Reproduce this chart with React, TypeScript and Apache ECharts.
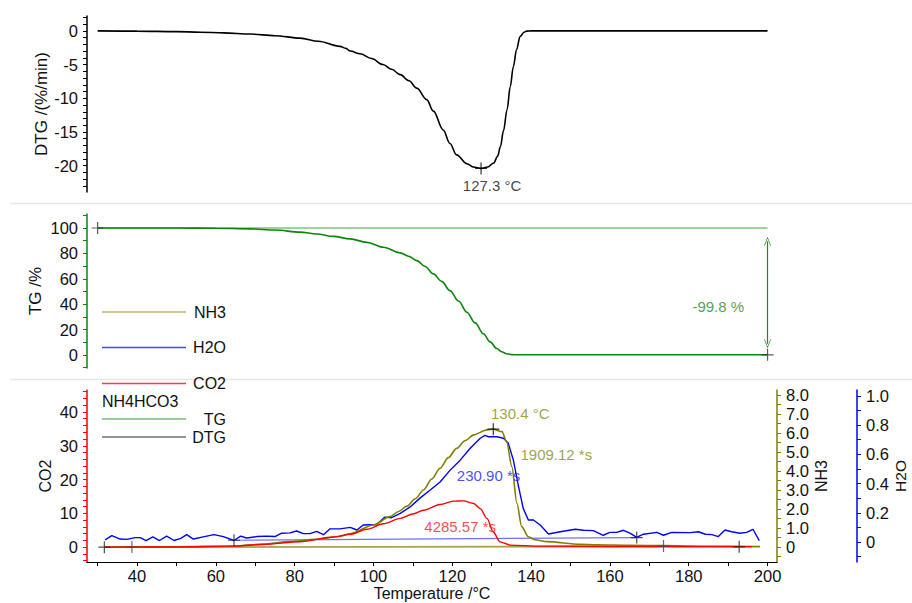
import React, { useEffect, useRef } from 'react';
import * as echarts from 'echarts';

const FONT = 'Arial, "Liberation Sans", Helvetica, sans-serif';

// ---- x axis (Temperature /°C) ----
const X_MIN = 27.3;
const X_MAX = 202.4;
const xTickValues = [30, 40, 50, 60, 70, 80, 90, 100, 110, 120, 130, 140, 150, 160, 170, 180, 190, 200];
const xLabelValues = [40, 60, 80, 100, 120, 140, 160, 180, 200];

// ---- DTG panel ----
const dtgLabelValues = [0, -5, -10, -15, -20];
const dtgTickValues = [2, 1, 0, -1, -2, -3, -4, -5, -6, -7, -8, -9, -10, -11, -12, -13, -14, -15, -16, -17, -18, -19, -20, -21, -22, -23];
const dtgData: [number, number][] = [
  [30, 0], [40, -0.05], [50, -0.12], [56, -0.2], [62, -0.3], [68.7, -0.48], [75, -0.72], [81.4, -1.08],
  [86, -1.55], [91.5, -2.3], [93, -2.6], [94.1, -3.0], [96.6, -3.4], [99.5, -4.1], [102.4, -5.0],
  [104.6, -5.7], [106.8, -6.5], [109, -7.4], [111, -8.5], [113.5, -10.2], [115.2, -11.9], [117.7, -14.7],
  [119.4, -16.7], [121.1, -18.4], [123.7, -19.7], [125.4, -20.2], [127.3, -20.4], [129, -20.2],
  [130.5, -19.6], [131.5, -18.6], [132.2, -17.2], [133, -14.8], [133.9, -11.7], [134.7, -8.3],
  [135.5, -5.3], [136.3, -2.8], [137.2, -0.85], [138.2, -0.2], [138.9, -0.05], [140, 0], [200, 0],
];
const dtgPeak: [number, number] = [127.3, -20.4];
const dtgPeakLabel = '127.3 °C';

// ---- TG panel ----
const tgLabelValues = [0, 20, 40, 60, 80, 100];
const tgTickValues = [-10, 0, 10, 20, 30, 40, 50, 60, 70, 80, 90, 100, 110];
const tgData: [number, number][] = [
  [30, 100], [50, 99.95], [60, 99.8], [68.7, 99.3], [75, 98.4], [81.4, 96.7], [85.6, 95.3], [89.8, 93.4],
  [94.1, 91.4], [98.3, 88.7], [102.5, 84.8], [106.8, 80.4], [108.9, 77.8], [111, 74.3], [113.1, 69.7],
  [115.2, 63.9], [117.3, 58], [119.4, 50.7], [121.6, 42.5], [123.7, 33.7], [125.8, 25.3], [127.9, 16.7],
  [129.6, 10.4], [131.3, 5.1], [132.5, 2.6], [133.8, 1.0], [135.1, 0.3], [136.4, 0.2], [200, 0.2],
];
const tgReference: [number, number][] = [[30, 100], [200, 100]];
const tgMarks: [number, number][] = [[30, 100], [200, 0.2]];
const tgStepArrow: [number, number][] = [[200, 89.5], [200, 8.8]];
const tgStepLabelPos: [number, number] = [187.5, 38.5];
const tgStepLabel = '-99.8 %';

// ---- MS panel ----
const co2LabelValues = [0, 10, 20, 30, 40];
const co2TickValues = [-4, -2, 0, 2, 4, 6, 8, 10, 12, 14, 16, 18, 20, 22, 24, 26, 28, 30, 32, 34, 36, 38, 40, 42, 44, 46];
const nh3LabelValues = [0, 1, 2, 3, 4, 5, 6, 7, 8];
const nh3TickValues = [-0.5, 0, 0.5, 1, 1.5, 2, 2.5, 3, 3.5, 4, 4.5, 5, 5.5, 6, 6.5, 7, 7.5, 8];
const h2oLabelValues = [0, 0.2, 0.4, 0.6, 0.8, 1.0];
const h2oTickValues = [-0.1, 0, 0.1, 0.2, 0.3, 0.4, 0.5, 0.6, 0.7, 0.8, 0.9, 1.0];

const co2Data: [number, number][] = [
  [31.7, 0], [50, 0.05], [64.4, 0.3], [72, 0.8], [81.4, 1.6], [89.9, 3.0], [94.1, 3.8], [98.3, 5.3],
  [102.5, 6.9], [106.8, 8.5], [110, 9.8], [112.7, 10.9], [116.9, 12.6], [120.3, 13.6], [122.8, 13.7],
  [125.4, 12.9], [127.1, 11.4], [128.8, 8.5], [130.4, 4.5], [132.1, 1.56], [134.7, 0.6], [142.3, 0.3],
  [160, 0.2], [196, 0.15],
];
const nh3Data: [number, number][] = [
  [31.7, 0], [40, 0], [50, 0.01], [60, 0.03], [64.4, 0.05], [72, 0.15], [78.8, 0.28], [85, 0.4],
  [91.5, 0.55], [94.1, 0.7], [100, 1.16], [104.2, 1.6], [106.4, 1.87], [108.5, 2.15], [110.6, 2.54],
  [112.7, 3.0], [114.8, 3.58], [116.9, 4.14], [119, 4.7], [121.1, 5.19], [123.3, 5.6], [125.4, 5.9],
  [128.8, 6.16], [130.4, 6.2], [132.6, 6.07], [133.8, 5.54], [135.1, 4.23], [136.4, 2.3], [137.6, 1.07],
  [139.3, 0.54], [141, 0.38], [144, 0.28], [152.4, 0.14], [156.7, 0.12], [165, 0.09], [173.5, 0.07],
  [185, 0.04], [198.1, 0.02],
];
const h2oData: [number, number][] = [
  [31.9, 0.014], [33.6, 0.043], [35.7, 0.02], [37.4, 0.018], [39.5, 0.03], [40.8, 0.03], [42.3, 0.01],
  [44, 0.035], [45.7, 0.01], [47.5, 0.04], [49.4, 0.01], [51.1, 0.025], [52.6, 0.05], [54.3, 0.02],
  [56.8, 0.035], [59.5, 0.05], [61.9, 0.037], [64.6, 0.01], [66.3, 0.04], [67.8, 0.027], [70.4, 0.037],
  [72.9, 0.04], [75, 0.037], [76.7, 0.06], [78.8, 0.062], [80.5, 0.075], [82.2, 0.057], [83.9, 0.057],
  [85.6, 0.073], [87.3, 0.05], [89, 0.09], [91.5, 0.09], [94.1, 0.1], [95.8, 0.082], [97.4, 0.116],
  [100.8, 0.12], [102.9, 0.17], [104.6, 0.166], [106.8, 0.196], [109.3, 0.24], [111.8, 0.3],
  [114.4, 0.356], [116.9, 0.41], [119.4, 0.49], [122, 0.56], [124.5, 0.64], [125.8, 0.676],
  [127.1, 0.71], [128.3, 0.73], [129.2, 0.72], [131.3, 0.72], [133, 0.71], [134.2, 0.676],
  [135.5, 0.56], [136.8, 0.38], [138, 0.23], [139.3, 0.15], [140.6, 0.15], [142.3, 0.116],
  [144.4, 0.055], [147.4, 0.07], [151.2, 0.087], [153.3, 0.08], [155.8, 0.078], [158.3, 0.046],
  [160, 0.066], [161.7, 0.066], [163.4, 0.08], [165.1, 0.06], [166.8, 0.032], [168.5, 0.053],
  [171.9, 0.066], [173.6, 0.046], [175.7, 0.066], [180.4, 0.064], [182.5, 0.07], [184.2, 0.053],
  [185.9, 0.05], [187.5, 0.037], [189.2, 0.082], [190.9, 0.07], [193, 0.06], [194.7, 0.066],
  [196.3, 0.087], [197.9, 0.009],
];
const co2Baseline: [number, number][] = [[31.7, 0], [192.8, 0.1]];
const nh3Baseline: [number, number][] = [[38.7, 0], [173.6, 0.05]];
const h2oBaseline: [number, number][] = [[64.6, 0.012], [166.8, 0.03]];
const co2Marks: [number, number][] = [[31.7, 0], [192.8, 0.1]];
const nh3Marks: [number, number][] = [[38.7, 0], [173.6, 0.05]];
const h2oMarks: [number, number][] = [[64.6, 0.012], [166.8, 0.03]];
const nh3Peak: [number, number] = [130.4, 6.2];
const nh3PeakLabel = '130.4 °C';
const nh3AreaLabelPos: [number, number] = [146.4, 4.89];
const nh3AreaLabel = '1909.12 *s';
const h2oAreaLabelPos: [number, number] = [129.2, 0.454];
const h2oAreaLabel = '230.90 *s';
const co2AreaLabelPos: [number, number] = [122, 6.0];
const co2AreaLabel = '4285.57 *s';

// legend entries (name, colour)
const legendItems = [
  { name: 'NH3', color: '#b9b672', y: 312 },
  { name: 'H2O', color: '#4646ff', y: 347.5 },
  { name: 'CO2', color: '#ff3a3a', y: 383.5 },
  { name: 'TG', color: '#70bf70', y: 419 },
  { name: 'DTG', color: '#707070', y: 437 },
];
const legendTitle = 'NH4HCO3';

const C_DTG = '#000000';
const C_TG = '#0a870a';
const C_CO2 = '#ff0000';
const C_NH3 = '#808000';
const C_H2O = '#0000ff';

const TICK_FONT = 16.5;
const ANN_FONT = 15;
const LEG_FONT = 16;

const PLUS = 'path://M4.5,0 H5.5 V4.5 H10 V5.5 H5.5 V10 H4.5 V5.5 H0 V4.5 H4.5 Z';
const VHEAD = 'path://M5,0 L10,10 L9,10 L5,2 L1,10 L0,10 Z';

function yAxisBase(opts: any) {
  const { color, labels, ticks, fmt, nameFont } = opts;
  return {
    type: 'value',
    splitLine: { show: false },
    axisLine: { show: true, lineStyle: { color, width: 1.5 } },
    axisTick: { show: true, inside: false, length: 4, customValues: ticks, lineStyle: { color, width: 1 } },
    axisLabel: {
      show: true,
      customValues: labels,
      color: '#111',
      fontSize: TICK_FONT,
      fontFamily: FONT,
      margin: 9,
      formatter: fmt,
    },
    nameLocation: 'middle',
    nameRotate: 90,
    nameMoveOverlap: false,
    nameTextStyle: { color: '#111', fontSize: nameFont, fontFamily: FONT },
  };
}

function labelPoint(x: number, y: number, xi: number, yi: number, text: string, color: string) {
  return {
    type: 'scatter',
    xAxisIndex: xi,
    yAxisIndex: yi,
    silent: true,
    symbolSize: 1,
    itemStyle: { color: 'rgba(0,0,0,0)' },
    data: [[x, y]],
    label: { show: true, position: 'inside', formatter: text, color, fontSize: ANN_FONT, fontFamily: FONT },
    z: 10,
  };
}

function plusMarks(data: [number, number][], xi: number, yi: number, color: string) {
  return {
    type: 'scatter',
    xAxisIndex: xi,
    yAxisIndex: yi,
    silent: true,
    symbol: PLUS,
    symbolSize: 12,
    itemStyle: { color },
    data,
    z: 9,
  };
}

function lineSeries(data: [number, number][], xi: number, yi: number, color: string, width: number, smooth: number | boolean) {
  return {
    type: 'line',
    xAxisIndex: xi,
    yAxisIndex: yi,
    data,
    showSymbol: false,
    symbol: 'none',
    smooth,
    smoothMonotone: 'x',
    silent: true,
    lineStyle: { color, width },
  };
}

export default function App() {
  const ref = useRef<HTMLDivElement>(null);
  useEffect(() => {
    document.body.style.margin = '0';
    const chart = echarts.init(ref.current!, null, { renderer: 'svg' });
    const xHidden = (gi: number) => ({ type: 'value', gridIndex: gi, min: X_MIN, max: X_MAX, show: false });
    const option: any = {
      animation: false,
      backgroundColor: '#ffffff',
      grid: [
        { left: 87, top: 16, width: 690, height: 176, containLabel: false, outerBoundsMode: 'none' },
        { left: 87, top: 214, width: 690, height: 154, containLabel: false, outerBoundsMode: 'none' },
        { left: 87, top: 390, width: 690, height: 172, containLabel: false, outerBoundsMode: 'none' },
      ],
      xAxis: [
        xHidden(0),
        xHidden(1),
        {
          type: 'value',
          gridIndex: 2,
          min: X_MIN,
          max: X_MAX,
          splitLine: { show: false },
          axisLine: { show: true, onZero: false, lineStyle: { color: '#000', width: 1.2 } },
          axisTick: { show: true, length: 4, customValues: xTickValues, lineStyle: { color: '#000' } },
          axisLabel: { customValues: xLabelValues, color: '#111', fontSize: TICK_FONT, lineHeight: 16, fontFamily: FONT, margin: 6 },
          name: 'Temperature /°C',
          nameLocation: 'middle',
          nameGap: 23,
          nameMoveOverlap: false,
          nameTextStyle: { color: '#111', fontSize: 16, lineHeight: 16, fontFamily: FONT },
        },
      ],
      yAxis: [
        {
          ...yAxisBase({ color: '#000', labels: dtgLabelValues, ticks: dtgTickValues, fmt: (v: number) => String(v), nameFont: 17 }),
          gridIndex: 0, position: 'left', min: -23.9, max: 2.2,
          name: 'DTG /(%/min)', nameGap: 37,
        },
        {
          ...yAxisBase({ color: C_TG, labels: tgLabelValues, ticks: tgTickValues, fmt: (v: number) => String(v), nameFont: 17 }),
          gridIndex: 1, position: 'left', min: -10.2, max: 111,
          name: 'TG /%', nameGap: 43,
        },
        {
          ...yAxisBase({ color: C_CO2, labels: co2LabelValues, ticks: co2TickValues, fmt: (v: number) => String(v), nameFont: 16 }),
          gridIndex: 2, position: 'left', min: -4.4, max: 46.5,
          name: 'CO2', nameGap: 34,
        },
        {
          ...yAxisBase({ color: C_NH3, labels: nh3LabelValues, ticks: nh3TickValues, fmt: (v: number) => (v === 0 ? '0' : v.toFixed(1)), nameFont: 16 }),
          gridIndex: 2, position: 'right', offset: 0, min: -0.79, max: 8.26,
          name: 'NH3', nameGap: 36,
        },
        {
          ...yAxisBase({ color: C_H2O, labels: h2oLabelValues, ticks: h2oTickValues, fmt: (v: number) => (v === 0 ? '0' : v.toFixed(1)), nameFont: 15.5 }),
          gridIndex: 2, position: 'right', offset: 80, min: -0.137, max: 1.04,
          name: 'H2O', nameGap: 35,
        },
      ],
      series: [
        // DTG panel
        lineSeries(dtgData, 0, 0, C_DTG, 1.6, 0.35),
        {
          ...plusMarks([dtgPeak], 0, 0, '#000'),
          label: { show: true, position: 'bottom', distance: 4, offset: [11, 0], formatter: dtgPeakLabel, color: '#111', fontSize: ANN_FONT, fontFamily: FONT },
        },
        // TG panel
        {
          ...lineSeries(tgReference, 1, 1, '#7cc47c', 1.5, false),
          markLine: {
            silent: true,
            symbol: [VHEAD, VHEAD],
            symbolSize: [7, 9],
            label: { show: false },
            lineStyle: { color: '#1a8c1a', width: 1.2, type: 'solid' },
            data: [[{ coord: tgStepArrow[0] }, { coord: tgStepArrow[1] }]],
          },
        },
        lineSeries(tgData, 1, 1, C_TG, 1.6, 0.35),
        plusMarks(tgMarks, 1, 1, '#333'),
        labelPoint(tgStepLabelPos[0], tgStepLabelPos[1], 1, 1, tgStepLabel, '#1a8c1a'),
        // MS panel
        lineSeries(co2Baseline, 2, 2, '#ff6060', 1.2, false),
        lineSeries(nh3Baseline, 2, 3, '#a6a34a', 1.2, false),
        lineSeries(h2oBaseline, 2, 4, '#6f6fff', 1.2, false),
        lineSeries(h2oData, 2, 4, C_H2O, 1.4, false),
        lineSeries(nh3Data, 2, 3, C_NH3, 1.6, 0.3),
        lineSeries(co2Data, 2, 2, C_CO2, 1.4, 0.3),
        plusMarks(co2Marks, 2, 2, '#222'),
        plusMarks(nh3Marks, 2, 3, '#444'),
        plusMarks(h2oMarks, 2, 4, '#222'),
        {
          ...plusMarks([nh3Peak], 2, 3, '#000'),
          label: { show: true, position: 'top', distance: 2, offset: [27, 0], formatter: nh3PeakLabel, color: '#8a8a10', fontSize: ANN_FONT, fontFamily: FONT },
        },
        labelPoint(nh3AreaLabelPos[0], nh3AreaLabelPos[1], 2, 3, nh3AreaLabel, '#8a8a10'),
        labelPoint(h2oAreaLabelPos[0], h2oAreaLabelPos[1], 2, 4, h2oAreaLabel, '#1a1aff'),
        labelPoint(co2AreaLabelPos[0], co2AreaLabelPos[1], 2, 2, co2AreaLabel, '#ff1a1a'),
      ],
      graphic: [
        { type: 'line', silent: true, shape: { x1: 10, y1: 203.5, x2: 912, y2: 203.5 }, style: { stroke: '#e6e6e6', lineWidth: 1.5 } },
        { type: 'line', silent: true, shape: { x1: 10, y1: 379.5, x2: 912, y2: 379.5 }, style: { stroke: '#e6e6e6', lineWidth: 1.5 } },
        ...legendItems.map((it) => ({
          type: 'line', silent: true, z: 100,
          shape: { x1: 102, y1: it.y, x2: 186, y2: it.y },
          style: { stroke: it.color, lineWidth: 1.5 },
        })),
        ...legendItems.map((it) => ({
          type: 'text', silent: true, z: 100,
          x: 226, y: it.y,
          style: {
            text: it.name, fill: '#111', fontSize: LEG_FONT, fontFamily: FONT,
            textAlign: 'right', textVerticalAlign: 'middle', align: 'right', verticalAlign: 'middle',
          },
        })),
        {
          type: 'text', silent: true, z: 100, x: 102, y: 401,
          style: {
            text: legendTitle, fill: '#111', fontSize: LEG_FONT, fontFamily: FONT,
            textAlign: 'left', textVerticalAlign: 'middle', align: 'left', verticalAlign: 'middle',
          },
        },
      ],
    };
    chart.setOption(option);
    return () => chart.dispose();
  }, []);
  return <div ref={ref} style={{ width: 912, height: 603 }} />;
}
